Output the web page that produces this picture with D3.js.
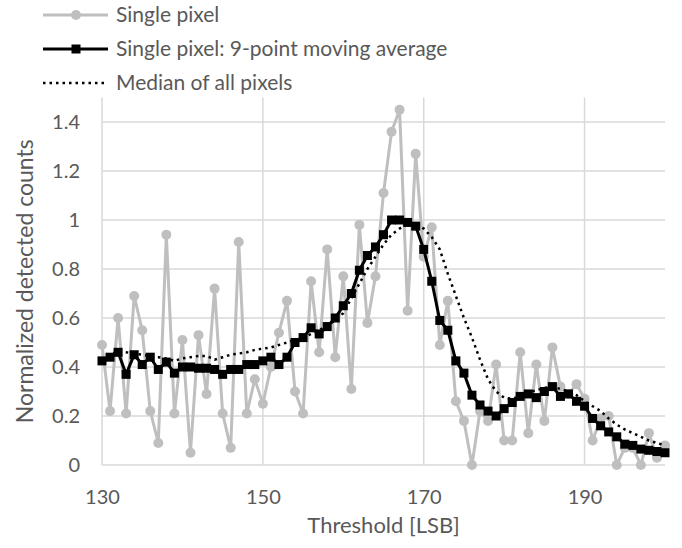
<!DOCTYPE html>
<html>
<head>
<meta charset="utf-8">
<script src="https://cdn.jsdelivr.net/npm/d3@7"></script>
<style>
    body { margin: 0; background: #fff; }
    #chart-area text { font-family: Lato, "Open Sans", sans-serif; fill: #595959; }
</style>
</head>
<body>
<div id="chart-area"></div>
<script>

var thresholds = [130, 131, 132, 133, 134, 135, 136, 137, 138, 139,
    140, 141, 142, 143, 144, 145, 146, 147, 148, 149,
    150, 151, 152, 153, 154, 155, 156, 157, 158, 159,
    160, 161, 162, 163, 164, 165, 166, 167, 168, 169,
    170, 171, 172, 173, 174, 175, 176, 177, 178, 179,
    180, 181, 182, 183, 184, 185, 186, 187, 188, 189,
    190, 191, 192, 193, 194, 195, 196, 197, 198, 199, 200];

var singlePixel = [0.49, 0.22, 0.60, 0.21, 0.69, 0.55, 0.22, 0.09, 0.94, 0.21,
    0.51, 0.05, 0.53, 0.29, 0.72, 0.21, 0.07, 0.91, 0.21, 0.35,
    0.25, 0.40, 0.54, 0.67, 0.30, 0.21, 0.75, 0.46, 0.88, 0.44,
    0.77, 0.31, 0.98, 0.58, 0.77, 1.11, 1.36, 1.45, 0.63, 1.27,
    0.85, 0.97, 0.49, 0.67, 0.26, 0.18, 0.00, 0.22, 0.18, 0.41,
    0.10, 0.10, 0.46, 0.13, 0.41, 0.18, 0.48, 0.32, 0.29, 0.33,
    0.27, 0.10, 0.19, 0.20, 0.00, 0.07, 0.07, 0.00, 0.13, 0.03, 0.08];

var movingAverage = [0.425, 0.44, 0.46, 0.37, 0.45, 0.41, 0.44, 0.39, 0.42, 0.375,
    0.40, 0.40, 0.395, 0.395, 0.39, 0.37, 0.39, 0.39, 0.41, 0.41,
    0.425, 0.44, 0.41, 0.44, 0.50, 0.52, 0.56, 0.535, 0.565, 0.60,
    0.65, 0.70, 0.795, 0.855, 0.89, 0.94, 1.0, 1.0, 0.99, 0.975,
    0.88, 0.75, 0.59, 0.55, 0.425, 0.375, 0.285, 0.245, 0.22, 0.20,
    0.23, 0.255, 0.28, 0.29, 0.275, 0.30, 0.32, 0.28, 0.29, 0.26,
    0.24, 0.19, 0.16, 0.135, 0.115, 0.085, 0.08, 0.065, 0.06, 0.055, 0.05];

var medianAll = [0.43, 0.45, 0.465, 0.46, 0.455, 0.45, 0.445, 0.44, 0.435, 0.425,
    0.435, 0.44, 0.445, 0.445, 0.43, 0.44, 0.45, 0.455, 0.46, 0.47,
    0.475, 0.48, 0.49, 0.50, 0.51, 0.52, 0.535, 0.55, 0.57, 0.59,
    0.62, 0.68, 0.74, 0.80, 0.85, 0.90, 0.94, 0.965, 0.985, 0.985,
    0.965, 0.93, 0.88, 0.78, 0.69, 0.60, 0.52, 0.43, 0.35, 0.30,
    0.275, 0.27, 0.28, 0.295, 0.305, 0.315, 0.32, 0.31, 0.30, 0.285,
    0.26, 0.24, 0.22, 0.19, 0.165, 0.145, 0.13, 0.115, 0.10, 0.09, 0.08];

var xTicks = [130, 150, 170, 190];
var yTicks = [0, 0.2, 0.4, 0.6, 0.8, 1, 1.2, 1.4];
var legendLabels = ["Single pixel", "Single pixel: 9-point moving average", "Median of all pixels"];


DetectorChart = function(_parentElement) {
    this.parentElement = _parentElement;
    this.initVis();
};

DetectorChart.prototype.initVis = function() {
    var vis = this;

    vis.margin = { top: 97.5, right: 17, bottom: 83, left: 102 };
    vis.width = 682 - vis.margin.left - vis.margin.right;
    vis.height = 548 - vis.margin.top - vis.margin.bottom;

    vis.root = d3.select("#" + vis.parentElement)
        .append("svg")
        .attr("width", 682)
        .attr("height", 548);

    vis.svg = vis.root.append("g")
        .attr("transform", "translate(" + vis.margin.left + "," + vis.margin.top + ")");

    vis.x = d3.scaleLinear()
        .domain([130, 200])
        .range([0, vis.width]);

    vis.y = d3.scaleLinear()
        .domain([0, 1.5])
        .range([vis.height, 0]);

    // gridlines
    vis.svg.selectAll(".h-grid")
        .data(yTicks)
        .enter().append("line")
        .attr("class", "h-grid")
        .attr("x1", 0)
        .attr("x2", vis.width)
        .attr("y1", function(d) { return vis.y(d); })
        .attr("y2", function(d) { return vis.y(d); })
        .attr("stroke", "#d9d9d9")
        .attr("stroke-width", 1.5);

    vis.svg.selectAll(".v-grid")
        .data(xTicks)
        .enter().append("line")
        .attr("class", "v-grid")
        .attr("x1", function(d) { return vis.x(d); })
        .attr("x2", function(d) { return vis.x(d); })
        .attr("y1", 0)
        .attr("y2", vis.height)
        .attr("stroke", "#d9d9d9")
        .attr("stroke-width", 1.5);

    vis.xAxis = d3.axisBottom(vis.x)
        .tickValues(xTicks)
        .tickSize(0)
        .tickPadding(25);

    vis.yAxis = d3.axisLeft(vis.y)
        .tickValues(yTicks)
        .tickSize(0)
        .tickPadding(22)
        .tickFormat(d3.format("~g"));

    vis.svg.append("g")
        .attr("class", "x-axis axis")
        .attr("transform", "translate(0," + vis.height + ")")
        .call(vis.xAxis);

    vis.svg.append("g")
        .attr("class", "y-axis axis")
        .call(vis.yAxis);

    vis.svg.selectAll(".axis .domain").remove();
    vis.svg.selectAll(".axis text")
        .attr("font-size", 20)
        .attr("fill", "#595959");

    vis.svg.append("text")
        .attr("x", vis.width / 2)
        .attr("y", vis.height + 68)
        .attr("text-anchor", "middle")
        .attr("font-size", 22)
        .text("Threshold [LSB]");

    vis.svg.append("text")
        .attr("transform", "translate(" + (-77) + "," + (vis.height / 2) + ") rotate(-90)")
        .attr("text-anchor", "middle")
        .attr("dy", "0.35em")
        .attr("font-size", 23)
        .text("Normalized detected counts");

    vis.wrangleData();
};

DetectorChart.prototype.wrangleData = function() {
    var vis = this;

    vis.displayData = thresholds.map(function(t, i) {
        return { t: t, single: singlePixel[i], avg: movingAverage[i], median: medianAll[i] };
    });

    vis.updateVis();
};

DetectorChart.prototype.updateVis = function() {
    var vis = this;

    var line = function(key) {
        return d3.line()
            .x(function(d) { return vis.x(d.t); })
            .y(function(d) { return vis.y(d[key]); });
    };

    // single pixel (grey, circles)
    vis.svg.append("path")
        .datum(vis.displayData)
        .attr("fill", "none")
        .attr("stroke", "#bfbfbf")
        .attr("stroke-width", 3)
        .attr("d", line("single"));

    vis.svg.selectAll(".single-dot")
        .data(vis.displayData)
        .enter().append("circle")
        .attr("class", "single-dot")
        .attr("cx", function(d) { return vis.x(d.t); })
        .attr("cy", function(d) { return vis.y(d.single); })
        .attr("r", 5)
        .attr("fill", "#bfbfbf");

    // moving average (black, squares)
    vis.svg.append("path")
        .datum(vis.displayData)
        .attr("fill", "none")
        .attr("stroke", "#000")
        .attr("stroke-width", 3)
        .attr("d", line("avg"));

    vis.svg.selectAll(".avg-square")
        .data(vis.displayData)
        .enter().append("rect")
        .attr("class", "avg-square")
        .attr("x", function(d) { return vis.x(d.t) - 4.5; })
        .attr("y", function(d) { return vis.y(d.avg) - 4.5; })
        .attr("width", 9)
        .attr("height", 9)
        .attr("fill", "#000");

    // median of all pixels (dotted)
    vis.svg.append("path")
        .datum(vis.displayData)
        .attr("fill", "none")
        .attr("stroke", "#000")
        .attr("stroke-width", 2.5)
        .attr("stroke-dasharray", "2.5,4")
        .attr("d", line("median"));

    // legend
    var legend = vis.root.selectAll(".legend-item")
        .data(legendLabels)
        .enter().append("g")
        .attr("class", "legend-item")
        .attr("transform", function(d, i) { return "translate(43," + (15 + i * 34) + ")"; });

    legend.append("line")
        .attr("x1", 0)
        .attr("x2", 65)
        .attr("stroke", function(d, i) { return i === 0 ? "#bfbfbf" : "#000"; })
        .attr("stroke-width", function(d, i) { return i === 2 ? 2.5 : 3; })
        .attr("stroke-dasharray", function(d, i) { return i === 2 ? "2.5,4" : null; });

    legend.filter(function(d, i) { return i === 0; })
        .append("circle")
        .attr("cx", 33)
        .attr("r", 5)
        .attr("fill", "#bfbfbf");

    legend.filter(function(d, i) { return i === 1; })
        .append("rect")
        .attr("x", 28.5)
        .attr("y", -4.5)
        .attr("width", 9)
        .attr("height", 9)
        .attr("fill", "#000");

    legend.append("text")
        .attr("x", 73)
        .attr("dy", "0.35em")
        .attr("font-size", 21)
        .text(function(d) { return d; });
};

new DetectorChart("chart-area");
</script>
</body>
</html>
